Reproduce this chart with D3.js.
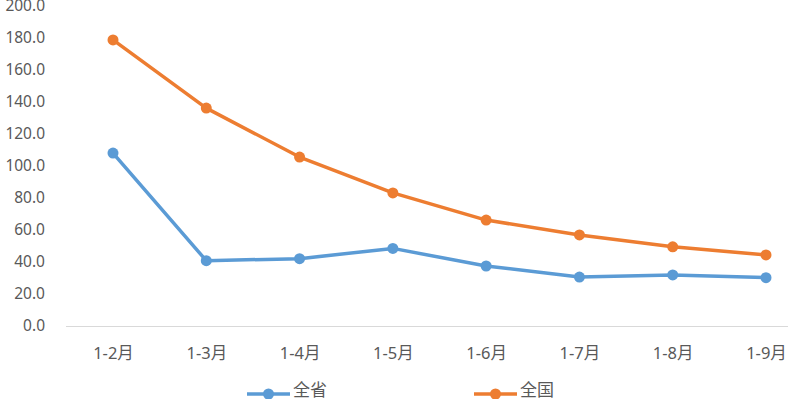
<!DOCTYPE html>
<html><head><meta charset="utf-8">
<script src="https://cdn.jsdelivr.net/npm/d3@7"></script>
<style>body{margin:0;background:#fff}svg{display:block}</style>
</head><body>
<svg id="c" width="788" height="399"></svg>
<script>
const categories = ["1-2月","1-3月","1-4月","1-5月","1-6月","1-7月","1-8月","1-9月"];
const province = [108.1, 40.8, 42.1, 48.5, 37.5, 30.6, 31.9, 30.2];
const national = [178.8, 136.2, 105.6, 83.2, 66.2, 56.9, 49.5, 44.4];
const yTicks = [0,20,40,60,80,100,120,140,160,180,200];
const seriesNames = ["全省","全国"];
const colors = ["#5B9BD5","#ED7D31"];

const svg = d3.select("#c");
const font = "'Noto Sans','Noto Sans CJK SC',sans-serif";
const x = d3.scalePoint().domain(categories).range([113, 766]);
const y = d3.scaleLinear().domain([0,200]).range([326, 6]);

// y axis labels
const yAxis = d3.axisLeft(y).tickValues(yTicks).tickFormat(d3.format(".1f")).tickSize(0).tickPadding(0);
const gy = svg.append("g").attr("transform","translate(45,0)").call(yAxis);
gy.select(".domain").remove();
gy.selectAll("text").attr("fill","#595959").attr("font-size",15.5).attr("font-family",font);

// x axis
const xAxis = d3.axisBottom(x).tickSize(0).tickPadding(0);
const gx = svg.append("g").attr("transform","translate(0,353)").call(xAxis);
gx.select(".domain").remove();
gx.selectAll("text").attr("fill","#595959").attr("font-size",16.5).attr("font-family",font).attr("dy","0.35em");
svg.append("line").attr("x1",66).attr("x2",788).attr("y1",y(0)+0.5).attr("y2",y(0)+0.5).attr("stroke","#D9D9D9").attr("stroke-width",1);

const data = [province, national];
const line = d3.line().x((d,i)=>x(categories[i])).y(d=>y(d));
data.forEach((s,k)=>{
  svg.append("path").datum(s).attr("d",line).attr("fill","none").attr("stroke",colors[k]).attr("stroke-width",3.5).attr("stroke-linejoin","round");
  svg.append("g").selectAll("circle").data(s).join("circle")
    .attr("cx",(d,i)=>x(categories[i])).attr("cy",d=>y(d)).attr("r",5.5).attr("fill",colors[k]);
});

// legend
const legX = [247, 474];
seriesNames.forEach((n,k)=>{
  const g = svg.append("g").attr("transform",`translate(${legX[k]},394)`);
  g.append("line").attr("x1",0).attr("x2",43).attr("stroke",colors[k]).attr("stroke-width",3.5);
  g.append("circle").attr("cx",21.5).attr("r",5.5).attr("fill",colors[k]);
  g.append("text").attr("x",46).attr("y",-3.5).attr("dy","0.35em").attr("fill","#595959").attr("font-size",17).attr("font-family",font).text(n);
});
</script>
</body></html>
